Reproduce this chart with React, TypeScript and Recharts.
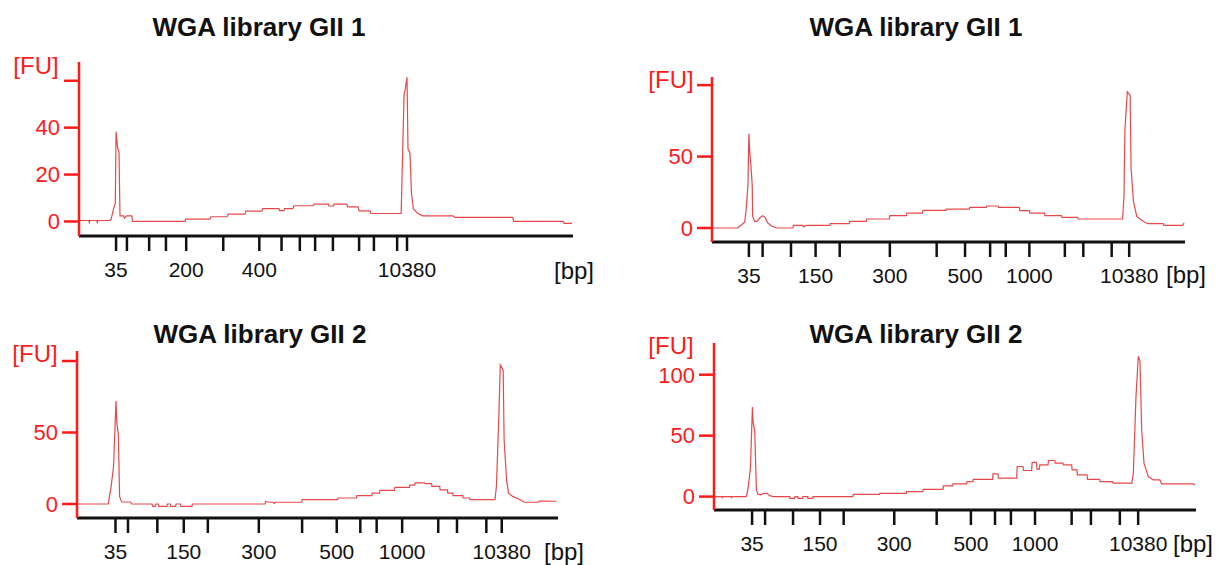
import React from "react";
import { LineChart, Line, XAxis, YAxis } from "recharts";

// size ladder (bp) and which ladder bands carry a label
const ladderBp = ["35", "50", "100", "150", "200", "300", "400", "500", "600", "700", "1000", "2000", "3000", "7000", "10380"];
const labelledTop = [0, 4, 6, 14];
const labelledBottom = [0, 3, 5, 7, 10, 14];

// ladder band positions (normalised migration time, 0-100) per run
const ladderT1 = [7.5, 9.7, 14.2, 17.6, 21.7, 29.2, 36.5, 41.0, 44.7, 47.8, 51.4, 56.7, 59.7, 64.4, 66.4];
const ladderT2 = [7.8, 10.7, 16.7, 21.9, 27.0, 37.6, 47.5, 53.5, 58.8, 62.1, 67.1, 74.6, 78.5, 84.5, 88.2];
const ladderT3 = [8.0, 10.6, 16.7, 22.2, 27.2, 37.8, 46.8, 54.0, 58.9, 62.3, 67.6, 75.1, 79.0, 85.1, 88.3];
const ladderT4 = [7.9, 10.6, 16.4, 22.0, 26.9, 37.4, 46.2, 53.3, 58.3, 61.6, 66.6, 74.2, 78.2, 84.2, 88.0];

// electropherogram traces: [time, FU]
const trace1 = [
  [0, 0.4], [2.0, 0.4], [2.1, -0.4], [2.2, 0.4], [3.6, 0.4], [3.7, -0.4], [3.8, 0.4], [6.3, 0.4],
  [6.5, 1], [7.1, 6.2], [7.35, 7.7], [7.5, 38.3], [7.8, 31.7], [8.1, 29.2], [8.3, 2.4], [9.0, 2.4],
  [9.2, 1.4], [9.6, 2.4], [10.7, 2.4], [10.8, 0], [21.5, 0], [21.6, 1], [26.5, 1], [26.7, 2],
  [30.0, 2], [30.2, 3.1], [33.6, 3.1], [33.8, 4.4], [37.0, 4.4], [37.2, 5.5], [40.5, 5.5], [40.6, 4.6],
  [41.5, 4.6], [41.6, 5.5], [43.3, 5.5], [43.5, 6.7], [47.4, 6.7], [47.6, 7.4], [50.5, 7.4], [50.6, 6.6],
  [51.5, 6.6], [51.6, 7.4], [54.2, 7.4], [54.4, 6.2], [56.5, 6.2], [56.7, 4.5], [58.9, 4.5], [59.1, 3.4],
  [65.2, 3.4], [65.3, 11], [65.8, 54], [66.0, 56], [66.4, 61.5], [66.6, 31], [67.0, 29], [67.3, 12],
  [67.7, 5.3], [68.6, 3.4], [69.6, 2.4], [75.7, 2.4], [76.1, 1.7], [87.8, 1.7], [88.0, 0], [98.0, 0],
  [98.2, -0.8], [99.8, -0.8],
];

const trace2 = [
  [0, 0], [5.4, 0], [6.3, 2.5], [6.9, 4], [7.2, 12], [7.6, 30], [7.8, 66.2], [8.0, 52.3],
  [8.2, 45.3], [8.5, 30], [8.6, 8.1], [9.0, 4.6], [9.5, 4.6], [10.1, 7], [10.7, 8.6], [11.2, 7.5],
  [11.8, 3.5], [12.8, 1.1], [13.7, 0], [17.1, 0], [17.2, 1.8], [19.2, 1.8], [19.3, 0.8], [20.0, 1.8],
  [24.9, 1.8], [25.0, 3.0], [29.0, 3.0], [29.1, 4.6], [32.6, 4.6], [32.7, 6.3], [37.5, 6.3], [37.6, 8.6],
  [41.1, 8.6], [41.2, 10.4], [44.5, 10.4], [44.6, 12.3], [49.5, 12.3], [49.6, 13.2], [54.4, 13.2], [54.5, 14.4],
  [58.0, 14.4], [58.1, 15.4], [60.5, 15.4], [60.6, 14.4], [65.0, 14.4], [65.1, 12.1], [67.1, 12.1], [67.2, 10.4],
  [70.3, 10.4], [70.4, 8.6], [73.9, 8.6], [74.0, 7.4], [77.3, 7.4], [77.4, 6.3], [86.8, 6.3], [87.1, 22],
  [87.3, 68.5], [87.8, 95.3], [88.4, 93], [88.6, 41.8], [89.1, 18.6], [89.8, 8.1], [91.2, 4.6], [92.2, 3],
  [95.4, 3], [95.5, 1.8], [99.5, 1.8], [99.8, 3.5],
];

const trace3 = [
  [0, 0], [6.5, 0], [7.1, 12.3], [7.6, 26.2], [8.1, 72], [8.3, 56.4], [8.6, 48.3], [8.85, 5.3],
  [9.3, 1.4], [11.1, 1.4], [11.4, 0], [15.6, 0], [15.7, -1.6], [16.3, -1.6], [16.4, 0], [16.9, 0],
  [17.0, -1.6], [18.7, -1.6], [18.8, 0], [19.4, 0], [19.5, -1.6], [20.5, -1.6], [20.6, 0], [21.5, 0],
  [21.6, -1.6], [23.9, -1.6], [24.0, 0], [39.1, 0], [39.2, 1.8], [40.0, 1.2], [40.8, 1.2], [41.0, 0.4],
  [41.3, 1.2], [46.7, 1.2], [46.8, 3.0], [54.2, 3.0], [54.3, 4.2], [58.1, 4.2], [58.2, 5.8], [61.3, 5.8],
  [61.4, 7.6], [62.9, 7.6], [63.0, 9.5], [66.0, 9.5], [66.1, 11.6], [69.1, 11.6], [69.2, 13.2], [70.2, 13.2],
  [70.3, 14.7], [72.3, 14.7], [72.4, 14.2], [73.7, 14.2], [73.8, 12.3], [75.4, 12.3], [75.5, 9.9], [77.0, 9.9],
  [77.1, 7.6], [78.1, 7.6], [78.2, 5.8], [80.2, 5.8], [80.3, 4.2], [81.6, 4.2], [81.7, 3.0], [86.9, 3.0],
  [87.2, 12.3], [87.7, 61.1], [88.0, 97.2], [88.6, 93.7], [88.8, 44.8], [89.3, 17.2], [89.7, 7.6], [90.6, 5.3],
  [91.8, 3.5], [93.0, 1.2], [96.0, 1.2], [96.1, 2.0], [99.7, 1.9],
];

const trace4 = [
  [0, 0], [1.7, 0], [1.75, -1.5], [1.8, 0], [3.6, 0], [3.65, -1.5], [3.7, 0], [6.7, 0],
  [7.06, 6.8], [7.56, 23.3], [7.97, 73.4], [8.1, 61.7], [8.45, 53.4], [8.8, 5.5], [9.13, 2.0], [9.84, 1.4],
  [10.17, 2.7], [11.0, 2.7], [11.56, 0.8], [12.25, 0], [15.7, 0], [15.75, -1.5], [16.75, -1.5], [16.8, 0],
  [17.4, 0], [17.45, -1.5], [18.4, -1.5], [18.45, 0], [19.45, 0], [19.5, -1.5], [20.5, -1.5], [20.55, 0],
  [28.8, 0], [28.9, 1.9], [34.3, 1.9], [34.4, 2.7], [39.9, 2.7], [40.0, 4.1], [43.3, 4.1], [43.4, 6.0],
  [47.5, 6.0], [47.6, 8.8], [49.5, 8.8], [49.6, 10.4], [52.4, 10.4], [52.5, 12.3], [53.7, 12.3], [53.8, 14.2],
  [57.8, 14.2], [57.9, 18.6], [58.9, 18.6], [59.0, 15.1], [62.8, 15.1], [62.9, 24.7], [64.1, 24.7], [64.2, 21.4],
  [65.9, 21.4], [66.0, 28.0], [66.9, 28.0], [67.0, 22.5], [67.5, 22.5], [67.6, 26.0], [69.3, 26.0], [69.4, 29.6],
  [70.7, 29.6], [70.8, 27.4], [72.4, 27.4], [72.5, 26.0], [74.2, 26.0], [74.3, 21.9], [75.3, 21.9], [75.4, 17.8],
  [77.4, 17.8], [77.5, 14.2], [80.0, 14.2], [80.1, 12.3], [82.7, 12.3], [82.8, 11.0], [86.7, 11.0], [87.0, 19.2],
  [87.55, 82.2], [88.03, 115.1], [88.38, 110.9], [88.73, 54.8], [89.21, 27.4], [90.1, 16.4], [91.14, 13.7], [92.5, 13.7],
  [92.9, 10.4], [99.4, 10.4], [99.8, 9.6],
];

const yTicks1 = [0, 20, 40, 60];
const yTicks2 = [0, 50, 100];

const FONT = "'Liberation Sans', Arial, sans-serif";
const RED = "#ff1a1a";
const TRACE = "#e8484a";

function toRows(trace: number[][]) {
  return trace.map(([t, fu]) => ({ t, fu }));
}

function Txt({ x, y, children, size = 24, color = "#111", bold = false }: any) {
  return (
    <div
      style={{
        position: "absolute",
        left: x,
        top: y,
        transform: "translate(-50%, -50%)",
        fontFamily: FONT,
        fontSize: size,
        fontWeight: bold ? 700 : 400,
        color,
        whiteSpace: "nowrap",
        lineHeight: 1,
      }}
    >
      {children}
    </div>
  );
}

function Panel({ box, margin, yWidth, trace, ladder, labelled, yDomain, yTicks, hideTopLabel }: any) {
  return (
    <div style={{ position: "absolute", left: box.left, top: box.top }}>
      <LineChart width={box.width} height={box.height} data={toRows(trace)} margin={margin}>
        <XAxis
          dataKey="t"
          type="number"
          domain={[0, 100]}
          ticks={ladder}
          interval={0}
          allowDataOverflow
          axisLine={{ stroke: "#111", strokeWidth: 3 }}
          tickLine={{ stroke: "#111", strokeWidth: 2.5 }}
          tickSize={15}
          tickMargin={11}
          height={40}
          tick={{ fill: "#111", fontSize: 21, fontFamily: FONT }}
          tickFormatter={(v: number) => {
            const i = ladder.indexOf(v);
            return labelled.includes(i) ? ladderBp[i] : "";
          }}
        />
        <YAxis
          type="number"
          domain={yDomain}
          ticks={yTicks}
          interval={0}
          allowDataOverflow
          width={yWidth}
          axisLine={{ stroke: RED, strokeWidth: 2.5 }}
          tickLine={{ stroke: RED, strokeWidth: 2.5 }}
          tickSize={15}
          tickMargin={4}
          tick={{ fill: RED, fontSize: 22, fontFamily: FONT }}
          tickFormatter={(v: number) => (hideTopLabel && v === yTicks[yTicks.length - 1] ? "" : String(v))}
        />
        <Line
          dataKey="fu"
          type="linear"
          stroke={TRACE}
          strokeWidth={1.2}
          dot={false}
          activeDot={false}
          isAnimationActive={false}
        />
      </LineChart>
    </div>
  );
}

export default function App() {
  return (
    <div style={{ position: "absolute", left: 0, top: 0, width: 1222, height: 565, background: "#fff" }}>
      <Panel
        box={{ left: 0, top: 40, width: 600, height: 250 }}
        margin={{ top: 22, right: 27, bottom: 14, left: 0 }}
        yWidth={79}
        trace={trace1}
        ladder={ladderT1}
        labelled={labelledTop}
        yDomain={[-6.2, 68]}
        yTicks={yTicks1}
        hideTopLabel
      />
      <Panel
        box={{ left: 612, top: 60, width: 600, height: 230 }}
        margin={{ top: 17, right: 27, bottom: 8, left: 0 }}
        yWidth={100}
        trace={trace2}
        ladder={ladderT2}
        labelled={labelledBottom}
        yDomain={[-9.8, 105.7]}
        yTicks={yTicks2}
        hideTopLabel
      />
      <Panel
        box={{ left: 0, top: 330, width: 600, height: 235 }}
        margin={{ top: 21, right: 42, bottom: 7, left: 0 }}
        yWidth={77}
        trace={trace3}
        ladder={ladderT3}
        labelled={labelledBottom}
        yDomain={[-9.8, 107]}
        yTicks={yTicks2}
        hideTopLabel
      />
      <Panel
        box={{ left: 612, top: 320, width: 610, height: 245 }}
        margin={{ top: 23, right: 26, bottom: 15, left: 0 }}
        yWidth={102}
        trace={trace4}
        ladder={ladderT4}
        labelled={labelledBottom}
        yDomain={[-11, 126]}
        yTicks={yTicks2}
        hideTopLabel={false}
      />

      <Txt x={259} y={27} size={26} bold>WGA library GII 1</Txt>
      <Txt x={916} y={27} size={26} bold>WGA library GII 1</Txt>
      <Txt x={260} y={334} size={26} bold>WGA library GII 2</Txt>
      <Txt x={916} y={334} size={26} bold>WGA library GII 2</Txt>

      <Txt x={36} y={66} color={RED}>[FU]</Txt>
      <Txt x={671} y={80} color={RED}>[FU]</Txt>
      <Txt x={35} y={354} color={RED}>[FU]</Txt>
      <Txt x={671} y={346} color={RED}>[FU]</Txt>

      <Txt x={574} y={271}>[bp]</Txt>
      <Txt x={1186} y={275}>[bp]</Txt>
      <Txt x={564} y={552}>[bp]</Txt>
      <Txt x={1193} y={544}>[bp]</Txt>
    </div>
  );
}
